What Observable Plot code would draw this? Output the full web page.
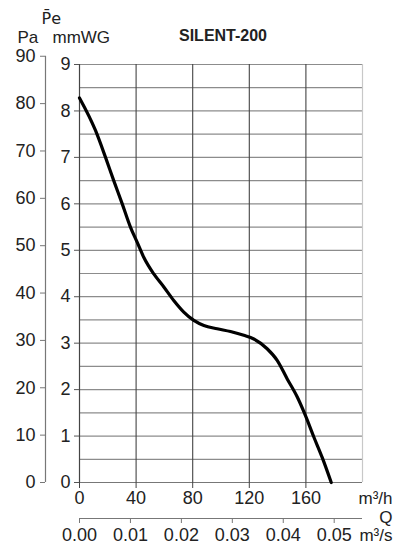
<!DOCTYPE html>
<html>
<head>
<meta charset="utf-8">
<script src="https://cdn.jsdelivr.net/npm/d3@7"></script>
<script src="https://cdn.jsdelivr.net/npm/@observablehq/plot@0.6"></script>
<style>
  html, body { margin: 0; padding: 0; background: #fff; }
</style>
</head>
<body>
<div id="chart"></div>
<script>
// Conversion 1 mmWG = 9.80665 Pa
const PA_PER_MM = 9.80665;

// Fan curve SILENT-200: flow (m3/h) vs static pressure (mmWG)
const flow = [0, 11.3, 18.4, 24.2, 30.2, 36, 40.8, 45.4, 52.5, 59.6, 66.6, 73.7, 80.8, 87.9, 97.3, 106.7, 116.1, 123.2, 132.6, 139.7, 146.8, 153.9, 159.7, 165.6, 171.5, 177.9];
const pressure = [8.28, 7.58, 7.0, 6.5, 6.0, 5.5, 5.17, 4.85, 4.49, 4.21, 3.92, 3.67, 3.49, 3.38, 3.31, 3.25, 3.17, 3.09, 2.88, 2.63, 2.23, 1.84, 1.44, 0.98, 0.54, 0.0];

const flowTicksH = [0, 40, 80, 120, 160];          // m3/h
const flowTicksS = [0, 0.01, 0.02, 0.03, 0.04, 0.05]; // m3/s
const mmTicks = [0, 1, 2, 3, 4, 5, 6, 7, 8, 9];    // mmWG
const paTicks = [0, 10, 20, 30, 40, 50, 60, 70, 80, 90]; // Pa
const gridMm = [0.5, 1, 1.5, 2, 2.5, 3, 3.5, 4, 4.5, 5, 5.5, 6, 6.5, 7, 7.5, 8, 8.5, 9];
const gridFlow = [40, 80, 120, 160];
const xDomain = [0, 200];
const yDomain = [0, 9];

const title = "SILENT-200";

const curve = flow.map((x, i) => ({x, y: pressure[i]}));
const font = "'Liberation Sans', Arial, sans-serif";
const fs = 18;
const txt = (s, o) => Plot.text([s], {text: d => d, lineAnchor: "middle", fontSize: 17, fill: "#222", ...o});

const chart = Plot.plot({
  width: 420,
  height: 546,
  marginTop: 64,
  marginBottom: 64,
  marginLeft: 79,
  marginRight: 58,
  style: {fontFamily: font, color: "#222", background: "#fff"},
  x: {domain: xDomain},
  y: {domain: yDomain},
  marks: [
    // grid
    Plot.ruleY(gridMm, {stroke: "#8c8c8c", strokeWidth: 1.2}),
    Plot.ruleY([0], {stroke: "#777", strokeWidth: 1.2}),
    Plot.ruleX(gridFlow, {stroke: "#444", strokeWidth: 1.1}),
    Plot.ruleX([xDomain[1]], {stroke: "#c8c8c8", strokeWidth: 1.2}),
    Plot.ruleX([0], {stroke: "#444", strokeWidth: 1.2}),
    // mmWG axis
    Plot.axisY(mmTicks, {anchor: "left", tickSize: 5, tickPadding: 4, fontSize: fs, stroke: "#555", fill: "#222", label: null}),
    // Pa axis (offset to the left)
    Plot.ruleX([0], {y1: 0, y2: paTicks[paTicks.length - 1] / PA_PER_MM, dx: -34, stroke: "#777", strokeWidth: 1.2}),
    Plot.axisY(paTicks.map(p => p / PA_PER_MM), {anchor: "left", dx: -34, tickFormat: d => Math.round(d * PA_PER_MM), tickSize: 5, tickPadding: 5, fontSize: fs, stroke: "#777", fill: "#222", label: null}),
    // m3/h axis
    Plot.axisX(flowTicksH, {anchor: "bottom", tickSize: 6, tickPadding: 3, fontSize: fs, stroke: "#444", fill: "#222", label: null}),
    // m3/s axis (offset below)
    Plot.ruleY([0], {dy: 36, stroke: "#777", strokeWidth: 1.2}),
    Plot.axisX(flowTicksS.map(s => s * 3600), {anchor: "bottom", dy: 36, tickFormat: d => (d / 3600).toFixed(2), tickSize: 5, tickPadding: 5, fontSize: fs, stroke: "#777", fill: "#222", label: null}),
    // curve
    Plot.line(curve, {x: "x", y: "y", curve: "monotone-x", stroke: "#000", strokeWidth: 3.2}),
    // labels
    txt(title, {frameAnchor: "top", dx: 2, dy: -29, fontWeight: "bold", fontSize: 16}),
    txt("Pa", {frameAnchor: "top-left", textAnchor: "start", dx: -62, dy: -27}),
    txt("mmWG", {frameAnchor: "top-left", textAnchor: "start", dx: -27, dy: -27}),
    txt("P\u0304e", {frameAnchor: "top-left", textAnchor: "start", dx: -38, dy: -46, fontFamily: "'DejaVu Sans', 'Liberation Sans', sans-serif", fontSize: 16}),
    txt("m³/h", {frameAnchor: "bottom-right", textAnchor: "end", dx: 30, dy: 16}),
    txt("Q", {frameAnchor: "bottom-right", textAnchor: "end", dx: 30, dy: 35}),
    txt("m³/s", {frameAnchor: "bottom-right", textAnchor: "end", dx: 30, dy: 53})
  ]
});
document.getElementById("chart").append(chart);
</script>
</body>
</html>
